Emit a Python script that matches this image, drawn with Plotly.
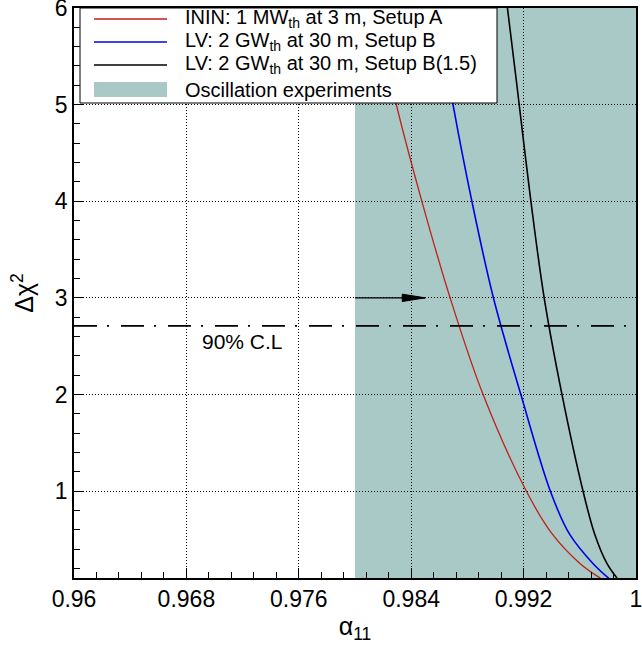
import plotly.graph_objects as go

# ---------------- data ----------------
RED_X = [0.98135, 0.98298, 0.98476, 0.98678, 0.98911, 0.99219, 0.99402, 0.99603, 0.99746]
RED_Y = [6.0, 4.975, 3.999, 2.995, 2.001, 1.0, 0.559, 0.248, 0.099]

BLUE_X = [0.98581, 0.98701, 0.98832, 0.98986, 0.99180, 0.99390, 0.99525, 0.99695, 0.99805]
BLUE_Y = [6.0, 4.975, 3.999, 2.995, 2.001, 1.0, 0.559, 0.248, 0.099]

BLACK_X = [0.99085, 0.99148, 0.99252, 0.99347, 0.99473, 0.99623, 0.99705, 0.99794, 0.99865]
BLACK_Y = [6.0, 5.252, 3.999, 2.995, 2.001, 1.0, 0.559, 0.248, 0.099]

SERIES_NAMES = ["ININ: 1 MW<sub>th</sub> at 3 m, Setup A",
                "LV: 2 GW<sub>th</sub> at 30 m, Setup B",
                "LV: 2 GW<sub>th</sub> at 30 m, Setup B(1.5)",
                "Oscillation experiments"]

OSC_X = [0.98, 1.0]          # oscillation-experiment allowed band
CL90 = 2.71                  # 90% C.L. level
CL_LABEL = "90% C.L"
CL_LABEL_POS = (0.972, 2.55)
ARROW_X = [0.98, 0.985]
ARROW_Y = 3.0

X_RANGE = [0.96, 1.0]
Y_RANGE = [0.1, 6.0]
X_TICKS = [0.96, 0.968, 0.976, 0.984, 0.992, 1.0]
X_TICK_LABELS = ["0.96", "0.968", "0.976", "0.984", "0.992", "1"]
Y_TICKS = [1, 2, 3, 4, 5, 6]
Y_TICK_LABELS = ["1", "2", "3", "4", "5", "6"]

# ---------------- styles ----------------
FONT = "Liberation Sans, Arial, Helvetica, sans-serif"
RED, BLUE, BLACK = "#c0201a", "#0000e6", "#000000"
SHADE = "#a8c9c6"

fig = go.Figure()

curve_line = dict(shape="spline", smoothing=1.0)
fig.add_trace(go.Scatter(x=RED_X, y=RED_Y, mode="lines",
                         line=dict(color=RED, width=1.3, **curve_line),
                         name=SERIES_NAMES[0], showlegend=False))
fig.add_trace(go.Scatter(x=BLUE_X, y=BLUE_Y, mode="lines",
                         line=dict(color=BLUE, width=1.6, **curve_line),
                         name=SERIES_NAMES[1], showlegend=False))
fig.add_trace(go.Scatter(x=BLACK_X, y=BLACK_Y, mode="lines",
                         line=dict(color=BLACK, width=1.6, **curve_line),
                         name=SERIES_NAMES[2], showlegend=False))

# 90% C.L. dash-dot line
fig.add_trace(go.Scatter(x=X_RANGE, y=[CL90, CL90], mode="lines",
                         line=dict(color="black", width=1.8, dash="23px,10px,2px,12px"),
                         showlegend=False, hoverinfo="skip"))
# arrow shaft
fig.add_trace(go.Scatter(x=ARROW_X, y=[ARROW_Y, ARROW_Y], mode="lines",
                         line=dict(color="black", width=1.3), showlegend=False, hoverinfo="skip"))

shapes = []
# oscillation band (below gridlines)
shapes.append(dict(type="rect", xref="x", yref="y", x0=OSC_X[0], x1=OSC_X[1],
                   y0=Y_RANGE[0], y1=Y_RANGE[1], fillcolor=SHADE, line=dict(width=0),
                   layer="below"))
# arrow head (pixel sized, anchored at data point)
shapes.append(dict(type="path", xref="x", yref="y", xsizemode="pixel", ysizemode="pixel",
                   xanchor=ARROW_X[1], yanchor=ARROW_Y,
                   path="M-23,-3.7 L0,0 L-23,3.7 Z", fillcolor="black",
                   line=dict(color="black", width=1), layer="above"))

# custom legend box (paper coordinates)
PL, PT, PW, PH = 74, 8, 562, 570
def px(xp):
    return (xp - PL) / PW
def py(yp):
    return (PT + PH - yp) / PH

shapes.append(dict(type="rect", xref="paper", yref="paper", x0=px(80), x1=px(497),
                   y0=py(103), y1=py(8), fillcolor="white",
                   line=dict(color="black", width=1), layer="above"))
row_y = [19, 42, 65, 90]
for yy, col in zip(row_y[:3], [RED, BLUE, BLACK]):
    shapes.append(dict(type="line", xref="paper", yref="paper", x0=px(94), x1=px(167),
                       y0=py(yy), y1=py(yy), line=dict(color=col, width=1.6), layer="above"))
shapes.append(dict(type="rect", xref="paper", yref="paper", x0=px(94), x1=px(167),
                   y0=py(97), y1=py(82), fillcolor=SHADE, line=dict(width=0), layer="above"))

annotations = []
for yy, name in zip(row_y, SERIES_NAMES):
    annotations.append(dict(xref="paper", yref="paper", x=px(183), y=py(yy), text=name,
                            showarrow=False, xanchor="left", yanchor="middle",
                            font=dict(family=FONT, size=20, color="black")))
annotations.append(dict(xref="x", yref="y", x=CL_LABEL_POS[0], y=CL_LABEL_POS[1],
                        text=CL_LABEL, showarrow=False, xanchor="center", yanchor="middle",
                        font=dict(family=FONT, size=21, color="black")))

axis_common = dict(showline=True, linecolor="black", linewidth=1.5, mirror=True,
                   ticks="inside", ticklen=10, tickwidth=1, tickcolor="black",
                   showgrid=True, gridcolor="black", gridwidth=1, griddash="1px,2px",
                   zeroline=False, ticklabeloverflow="allow",
                   tickfont=dict(family=FONT, size=23, color="black"))

fig.update_xaxes(range=X_RANGE, tickmode="array", tickvals=X_TICKS, ticktext=X_TICK_LABELS,
                 minor=dict(tick0=0.96, dtick=0.0016, ticks="inside", ticklen=6,
                            tickcolor="black", showgrid=False),
                 title=dict(text="α<sub>11</sub>", font=dict(family=FONT, size=25), standoff=6),
                 **axis_common)
fig.update_yaxes(range=Y_RANGE, tickmode="array", tickvals=Y_TICKS, ticktext=Y_TICK_LABELS,
                 minor=dict(tick0=0, dtick=0.2, ticks="inside", ticklen=6,
                            tickcolor="black", showgrid=False),
                 title=dict(text="Δχ<sup>2</sup>", font=dict(family=FONT, size=25), standoff=14),
                 **axis_common)

fig.update_layout(width=642, height=647, margin=dict(l=74, r=6, t=8, b=69, autoexpand=False),
                  plot_bgcolor="white", paper_bgcolor="white", showlegend=False,
                  shapes=shapes, annotations=annotations,
                  font=dict(family=FONT, color="black"))

fig.write_html("out.html", config={"displayModeBar": False},
               post_script="document.body.style.margin='0';document.body.style.overflow='hidden';")
